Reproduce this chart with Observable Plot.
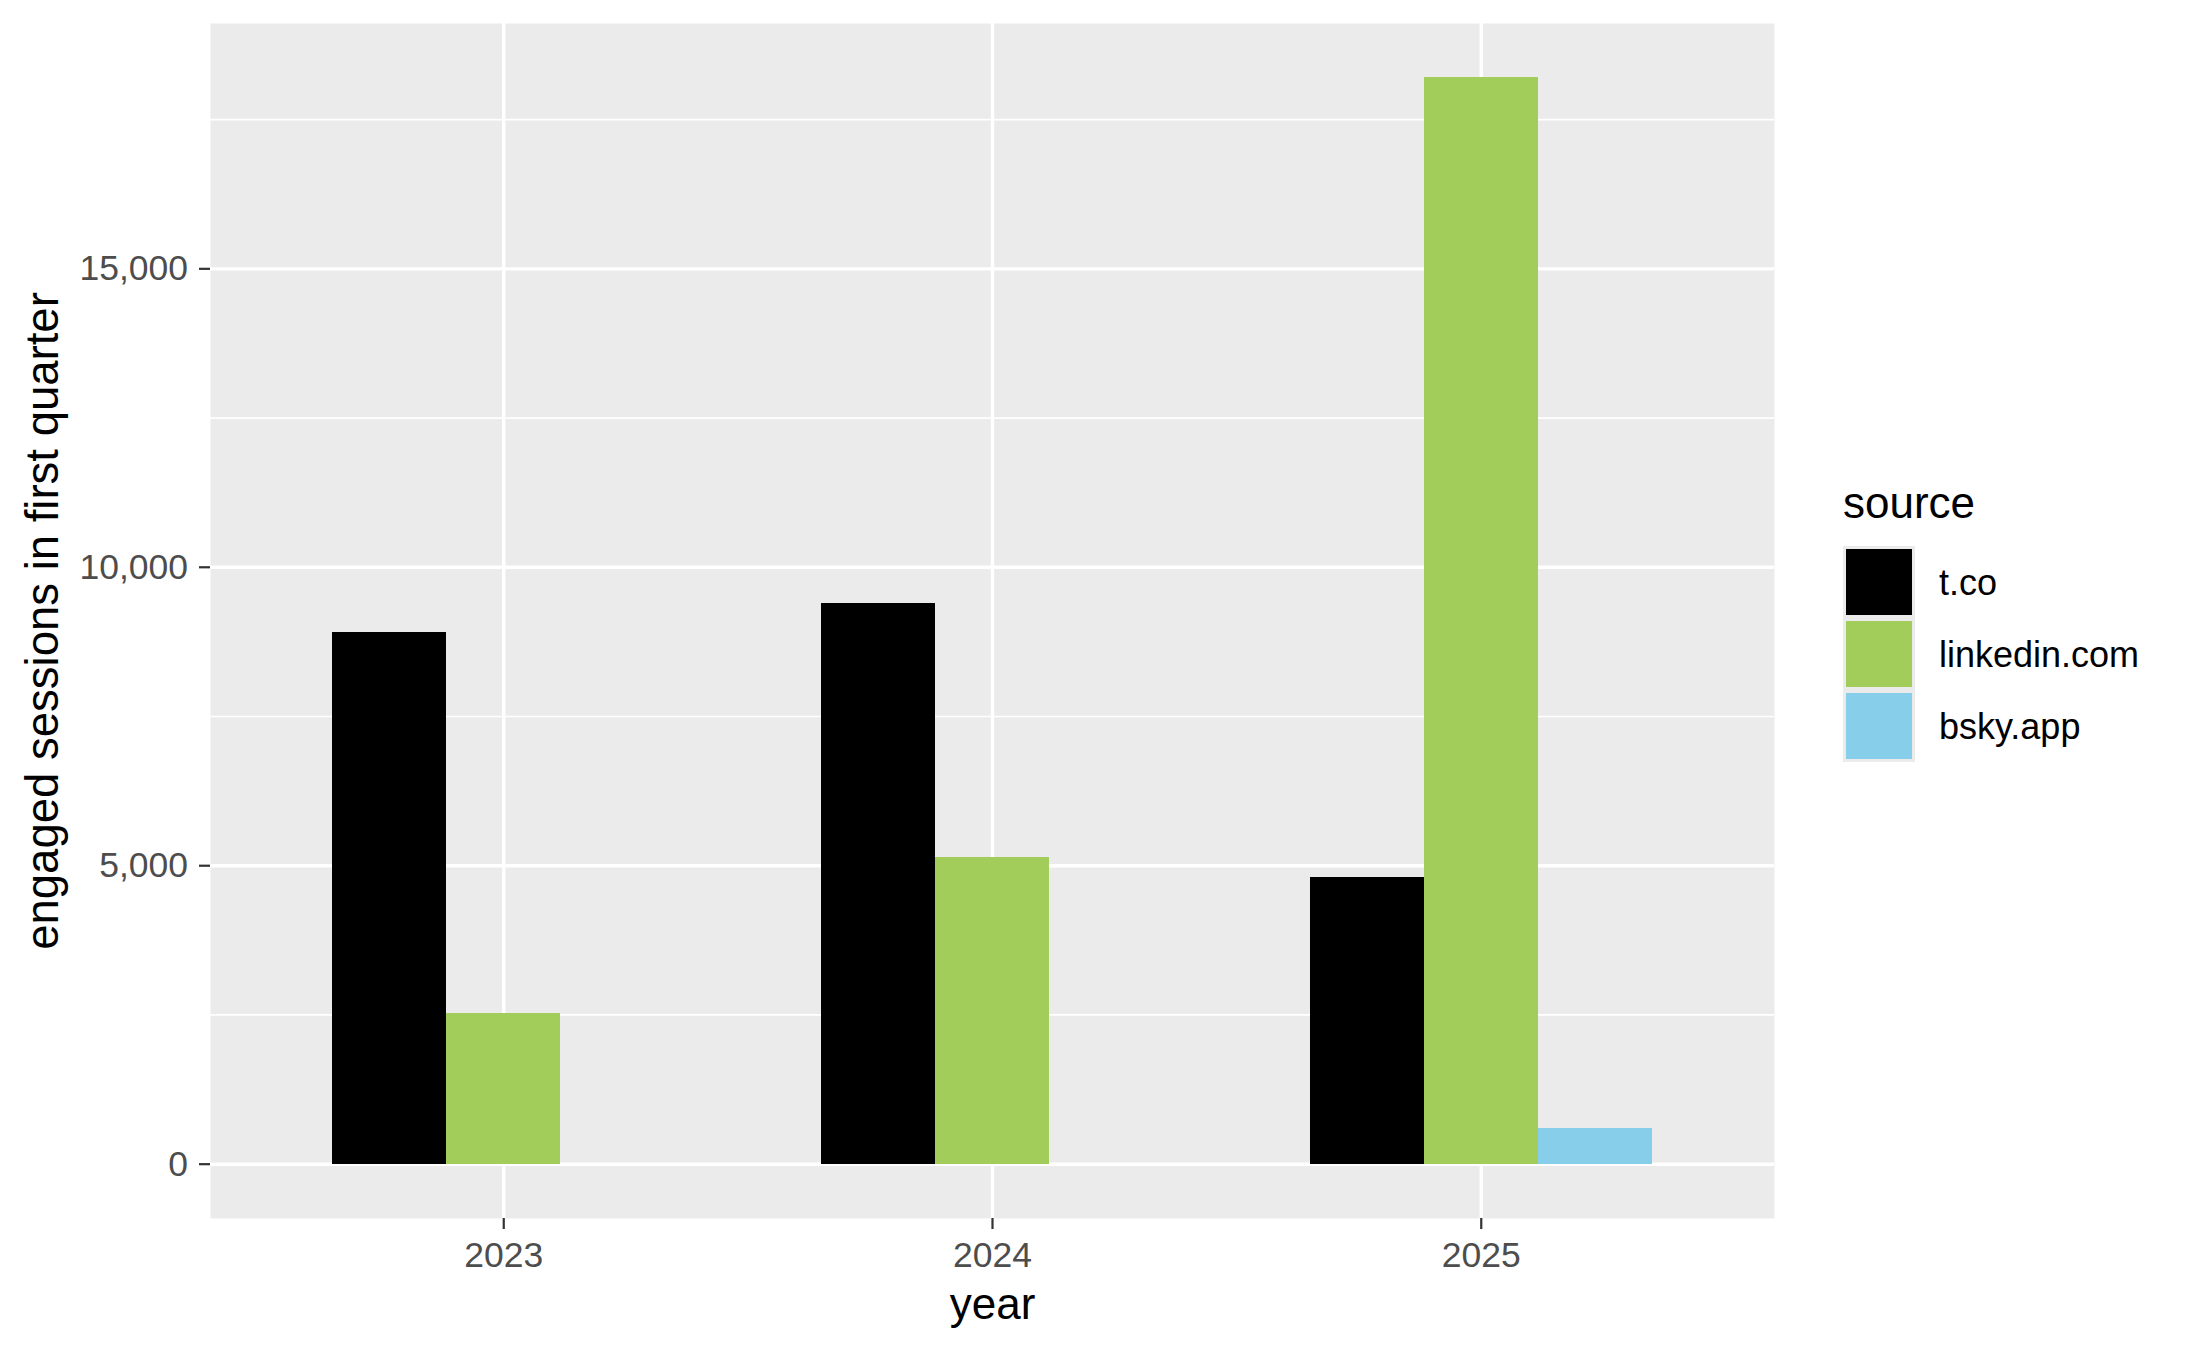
<!DOCTYPE html>
<html>
<head>
<meta charset="utf-8">
<script src="https://cdn.jsdelivr.net/npm/d3@7"></script>
<script src="https://cdn.jsdelivr.net/npm/@observablehq/plot@0.6"></script>
<style>
  html, body { margin: 0; padding: 0; background: #ffffff; }
  #wrap { position: relative; width: 2187px; height: 1351px; font-family: "Liberation Sans", Arial, sans-serif; }
  #legend { position: absolute; left: 0; top: 0; }
  .lg-title { position: absolute; font-size: 44px; line-height: 44px; color: #000; white-space: nowrap; }
  .lg-keys { position: absolute; background: #ebebeb; }
  .lg-swatch { position: absolute; }
  .lg-label { position: absolute; font-size: 36px; line-height: 36px; color: #000; white-space: nowrap; }
</style>
</head>
<body>
<div id="wrap"><div id="chart"></div><div id="legend"></div></div>
<script>
// ---- data ----
const years = [2023, 2024, 2025];
const sources = ["t.co", "linkedin.com", "bsky.app"];
const tcoValues = [8900, 9400, 4800];
const linkedinValues = [2530, 5130, 18200];
const bskyValues = [0, 0, 590];
const sourceColors = ["#000000", "#a2cd5a", "#87ceeb"];
const yTicks = [0, 5000, 10000, 15000];
const yMinorTicks = [2500, 7500, 12500, 17500];
const xTitle = "year";
const yTitle = "engaged sessions in first quarter";
const legendTitle = "source";

// ---- table ----
const seriesValues = [tcoValues, linkedinValues, bskyValues];
const rows = years.flatMap((year, i) =>
  sources.map((source, j) => ({year, source, j, value: seriesValues[j][i]}))
).filter(d => d.value > 0);

const dodgeWidth = 0.7;
const slot = dodgeWidth / sources.length;
const ymax = d3.max(rows, d => d.value);
const ypad = ymax * 0.05;

const chart = Plot.plot({
  width: 2187,
  height: 1351,
  marginLeft: 210,
  marginRight: 413,
  marginTop: 23,
  marginBottom: 133,
  style: {background: "white", fontFamily: "'Liberation Sans', Arial, sans-serif", overflow: "visible"},
  x: {type: "linear", domain: [years[0] - 0.6, years[years.length - 1] + 0.6], label: null},
  y: {domain: [-ypad, ymax + ypad], label: null},
  color: {domain: sources, range: sourceColors},
  marks: [
    Plot.frame({fill: "#ebebeb", stroke: "none"}),
    Plot.ruleY(yMinorTicks, {stroke: "white", strokeWidth: 1.7}),
    Plot.ruleY(yTicks, {stroke: "white", strokeWidth: 3.4}),
    Plot.ruleX(years, {stroke: "white", strokeWidth: 3.4}),
    Plot.rect(rows, {
      x1: d => d.year - dodgeWidth / 2 + d.j * slot,
      x2: d => d.year - dodgeWidth / 2 + (d.j + 1) * slot,
      y1: 0,
      y2: "value",
      fill: "source",
      shapeRendering: "crispEdges"
    }),
    Plot.axisY(yTicks, {tickSize: 11, stroke: "#333333", strokeWidth: 2.2, fill: "none", label: null}),
    Plot.axisY(yTicks, {tickSize: 0, tickPadding: 22.5, fill: "#4d4d4d", fontSize: 35.5, tickFormat: d3.format(","), label: null}),
    Plot.axisX(years, {tickSize: 11, stroke: "#333333", strokeWidth: 2.2, fill: "none", label: null}),
    Plot.axisX(years, {tickSize: 0, tickPadding: 23.7, fill: "#4d4d4d", fontSize: 35.5, tickFormat: d => String(d), label: null}),
    Plot.text([xTitle], {text: d => d, frameAnchor: "bottom", dy: 100, lineAnchor: "bottom", textAnchor: "middle", fontSize: 44, fill: "black"}),
    Plot.text([yTitle], {text: d => d, frameAnchor: "left", dx: -153, rotate: -90, lineAnchor: "bottom", textAnchor: "middle", fontSize: 45.5, fill: "black"})
  ]
});
document.getElementById("chart").appendChild(chart);

// ---- legend (right of the panel) ----
const legend = document.getElementById("legend");
const title = document.createElement("div");
title.className = "lg-title";
title.textContent = legendTitle;
title.style.left = "1843px";
title.style.top = (518 - 37.3) + "px";
legend.appendChild(title);

const keyLeft = 1843.3, keyTop = 546, cell = 72, keyW = 71.4;
const keys = document.createElement("div");
keys.className = "lg-keys";
keys.style.left = keyLeft + "px";
keys.style.top = keyTop + "px";
keys.style.width = keyW + "px";
keys.style.height = (cell * sources.length) + "px";
legend.appendChild(keys);
sources.forEach((s, i) => {
  const sw = document.createElement("div");
  sw.className = "lg-swatch";
  sw.style.left = "2.8px";
  sw.style.top = (3 + i * cell) + "px";
  sw.style.width = "66px";
  sw.style.height = "66px";
  sw.style.background = sourceColors[i];
  keys.appendChild(sw);
  const lb = document.createElement("div");
  lb.className = "lg-label";
  lb.textContent = s;
  lb.style.left = "1939px";
  lb.style.top = (keyTop + i * cell + cell / 2 + 13 - 30.5) + "px";
  legend.appendChild(lb);
});
</script>
</body>
</html>
